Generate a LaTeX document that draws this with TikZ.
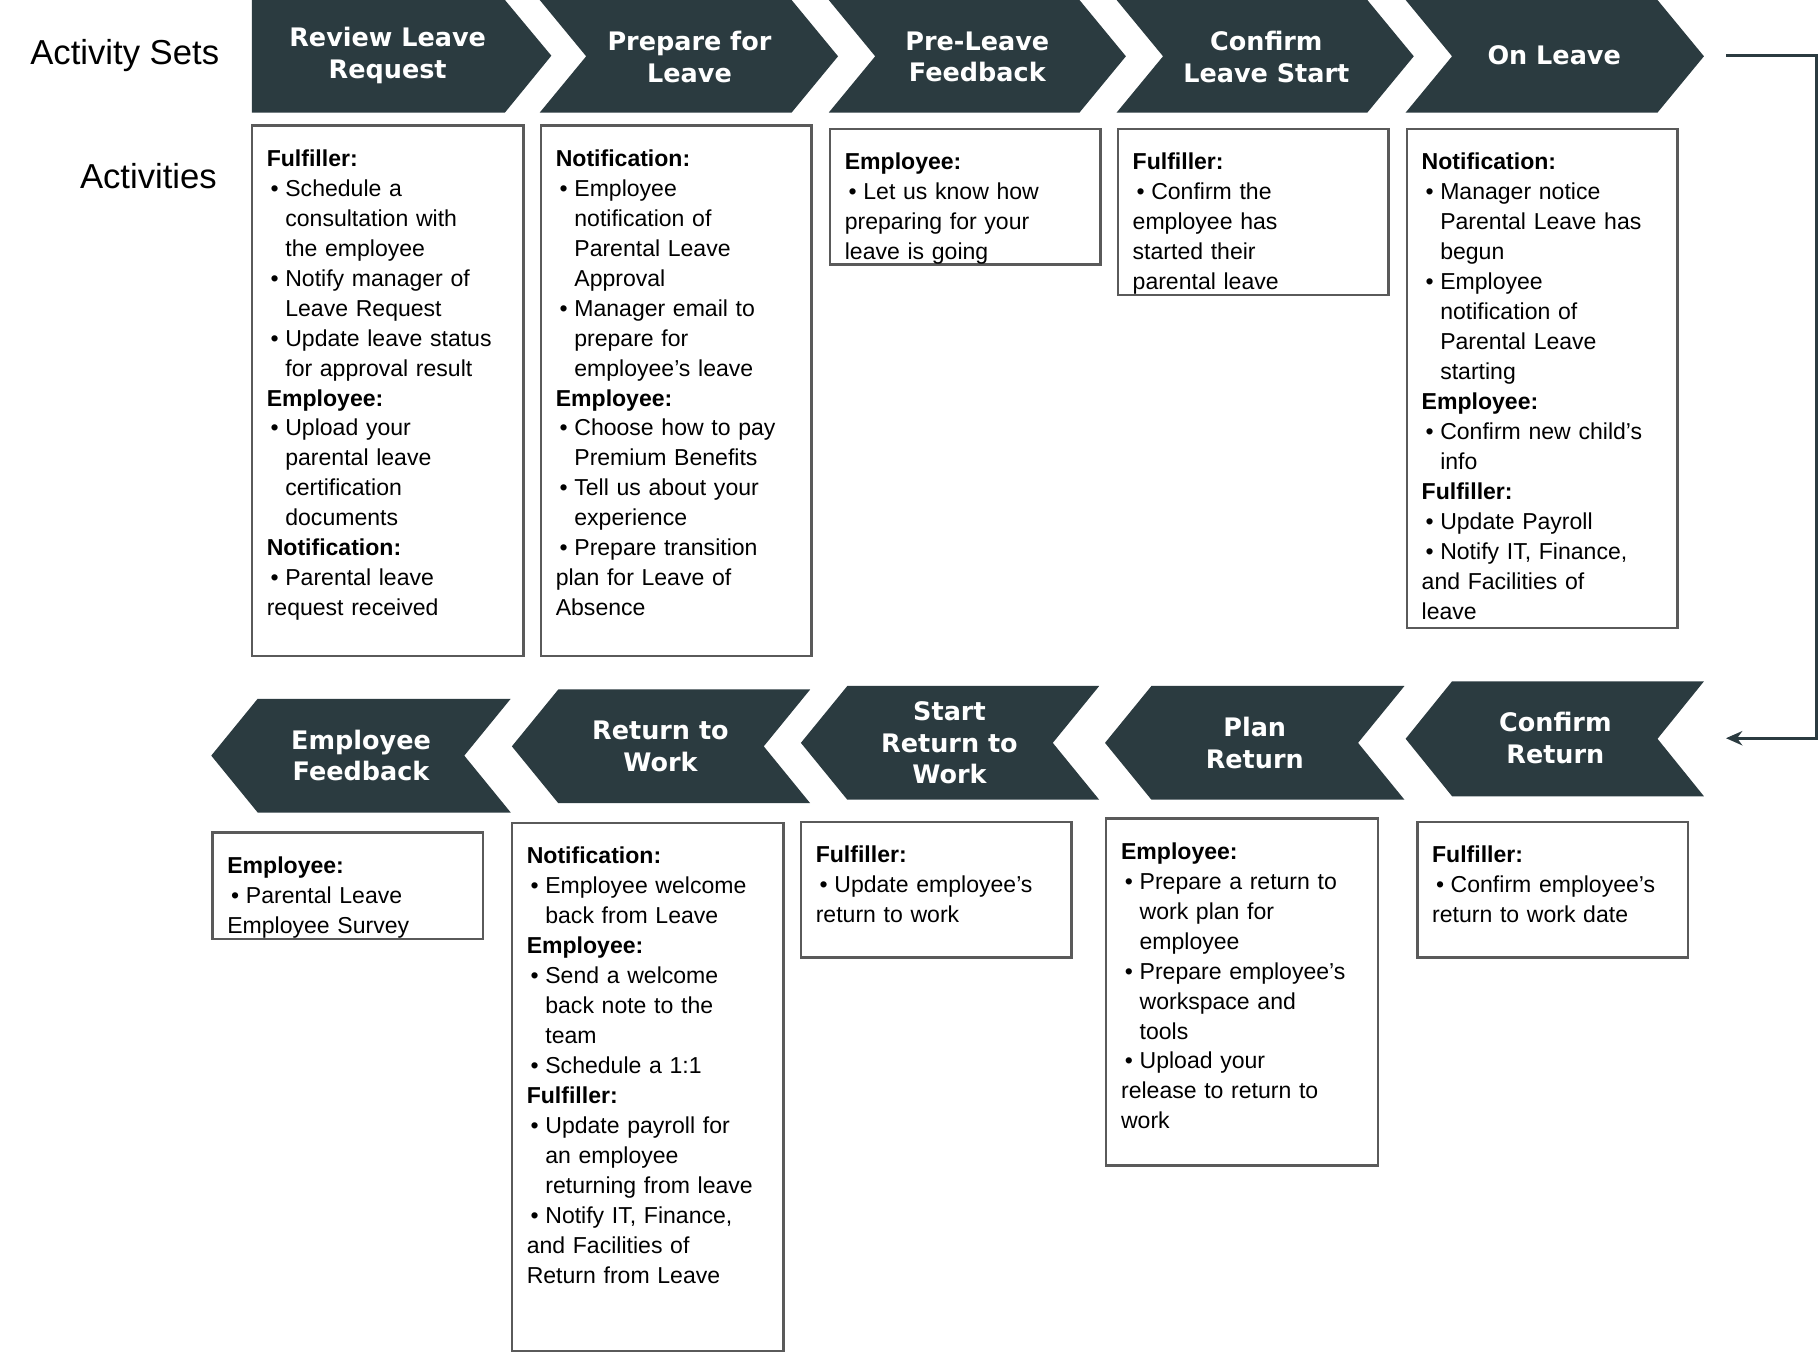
\documentclass[tikz,border=0pt]{standalone}
\usepackage{fontspec}
\setmainfont{Liberation Sans}
\newfontfamily\chevfont{DejaVu Sans}
\usetikzlibrary{arrows.meta}
\definecolor{chevc}{HTML}{2B3B40}
\definecolor{boxc}{HTML}{5A5A5A}
\newcommand\bi[1]{\par\noindent\hangindent=0.32cm\hangafter=1\makebox[0.32cm][l]{\,•}#1}
\newcommand\hd[1]{\par\noindent\textbf{#1}}
\newcommand\chevR[4]{\fill[chevc] (#1,#2)--({#3-40},#2)--(#3,{(#2+#4)/2})--({#3-40},#4)--(#1,#4)--({#1+40},{(#2+#4)/2})--cycle;}
\newcommand\chevL[4]{\fill[chevc] (#3,#2)--({#1+40},#2)--(#1,{(#2+#4)/2})--({#1+40},#4)--(#3,#4)--({#3-40},{(#2+#4)/2})--cycle;}
\tikzset{
 chevlbl/.style={text=white,font=\chevfont\bfseries\fontsize{12.5}{15.5}\selectfont,align=center},
 boxs/.style={draw=boxc,line width=1.2pt,anchor=north west,inner sep=0pt},
 txt/.style={anchor=north west,inner xsep=0.27cm,inner ysep=0.2cm,text width=4.6cm,align=left,font=\fontsize{11.3}{14.7}\selectfont},
 hdl/.style={font=\fontsize{17}{20}\selectfont}
}
\begin{document}
\begin{tikzpicture}[x=0.02cm,y=-0.02cm]
\useasboundingbox (0,0) rectangle (1568,1165);
% top chevrons
\fill[chevc] (217,0)--(435,0)--(475,48)--(435,97)--(217,97)--cycle;
\chevR{465}{0}{722}{97}
\chevR{714}{0}{970}{97}
\chevR{962}{0}{1218}{97}
\chevR{1211}{0}{1468}{97}
\node[chevlbl] (c1) at (334,48) {Review Leave\\Request};
\node[chevlbl] (c2) at (594,49) {Prepare for\\Leave};
\node[chevlbl] (c3) at (842,49) {Pre-Leave\\Feedback};
\node[chevlbl] (c4) at (1091,49) {Confirm\\Leave Start};
\node[chevlbl] (c5) at (1339,48) {On Leave};
% bottom chevrons
\chevL{182}{602}{440}{700}
\chevL{441}{594}{698}{692}
\chevL{690}{591}{947}{689}
\chevL{952}{591}{1210}{689}
\chevL{1211}{587}{1468}{686}
\node[chevlbl] (d1) at (311,651) {Employee\\Feedback};
\node[chevlbl] (d2) at (569,643) {Return to\\Work};
\node[chevlbl] (d3) at (818,640) {Start\\Return to\\Work};
\node[chevlbl] (d4) at (1081,640) {Plan\\Return};
\node[chevlbl] (d5) at (1340,636) {Confirm\\Return};
% headings
\node[hdl,anchor=east] (h1) at (195,48) {Activity Sets};
\node[hdl,anchor=east] (h2) at (193,152) {Activities};
% connector
\coordinate (s) at (1487,48);
\coordinate (e) at (1487,636);
\draw[chevc,line width=1.6pt,-{Stealth[length=8pt,width=7pt]}] (s)--(1565,48)--(1565,636)--(e);
% boxes
\node[boxs,minimum width=0.02*234cm,minimum height=0.02*457cm] (b1) at (216,107) {};
\node[txt] at (b1.north west) {\hd{Fulfiller:}\bi{Schedule a\newline consultation with\newline the employee}\bi{Notify manager of\newline Leave Request}\bi{Update leave status\newline for approval result}\hd{Employee:}\bi{Upload your\newline parental leave\newline certification\newline documents}\hd{Notification:}\bi{Parental leave\newline request received}};
\node[boxs,minimum width=0.02*233cm,minimum height=0.02*457cm] (b2) at (465,107) {};
\node[txt] at (b2.north west) {\hd{Notification:}\bi{Employee\newline notification of\newline Parental Leave\newline Approval}\bi{Manager email to\newline prepare for\newline employee’s leave}\hd{Employee:}\bi{Choose how to pay\newline Premium Benefits}\bi{Tell us about your\newline experience}\bi{Prepare transition\newline plan for Leave of\newline Absence}};
\node[boxs,minimum width=0.02*233cm,minimum height=0.02*117cm] (b3) at (714,110) {};
\node[txt] at (b3.north west) {\hd{Employee:}\bi{Let us know how\newline preparing for your\newline leave is going}};
\node[boxs,minimum width=0.02*233cm,minimum height=0.02*143cm] (b4) at (962,110) {};
\node[txt] at (b4.north west) {\hd{Fulfiller:}\bi{Confirm the\newline employee has\newline started their\newline parental leave}};
\node[boxs,minimum width=0.02*233cm,minimum height=0.02*430cm] (b5) at (1211,110) {};
\node[txt] at (b5.north west) {\hd{Notification:}\bi{Manager notice\newline Parental Leave has\newline begun}\bi{Employee\newline notification of\newline Parental Leave\newline starting}\hd{Employee:}\bi{Confirm new child’s\newline info}\hd{Fulfiller:}\bi{Update Payroll}\bi{Notify IT, Finance,\newline and Facilities of\newline leave}};
\node[boxs,minimum width=0.02*233cm,minimum height=0.02*92cm] (b6) at (182,716) {};
\node[txt] at (b6.north west) {\hd{Employee:}\bi{Parental Leave\newline Employee Survey}};
\node[boxs,minimum width=0.02*234cm,minimum height=0.02*455cm] (b7) at (440,708) {};
\node[txt] at (b7.north west) {\hd{Notification:}\bi{Employee welcome\newline back from Leave}\hd{Employee:}\bi{Send a welcome\newline back note to the\newline team}\bi{Schedule a 1:1}\hd{Fulfiller:}\bi{Update payroll for\newline an employee\newline returning from leave}\bi{Notify IT, Finance,\newline and Facilities of\newline Return from Leave}};
\node[boxs,minimum width=0.02*233cm,minimum height=0.02*117cm] (b8) at (689,707) {};
\node[txt] at (b8.north west) {\hd{Fulfiller:}\bi{Update employee’s\newline return to work}};
\node[boxs,minimum width=0.02*234cm,minimum height=0.02*299cm] (b9) at (952,704) {};
\node[txt] at (b9.north west) {\hd{Employee:}\bi{Prepare a return to\newline work plan for\newline employee}\bi{Prepare employee’s\newline workspace and\newline tools}\bi{Upload your\newline release to return to\newline work}};
\node[boxs,minimum width=0.02*233cm,minimum height=0.02*117cm] (b10) at (1220,707) {};
\node[txt] at (b10.north west) {\hd{Fulfiller:}\bi{Confirm employee’s\newline return to work date}};
\end{tikzpicture}
\end{document}
